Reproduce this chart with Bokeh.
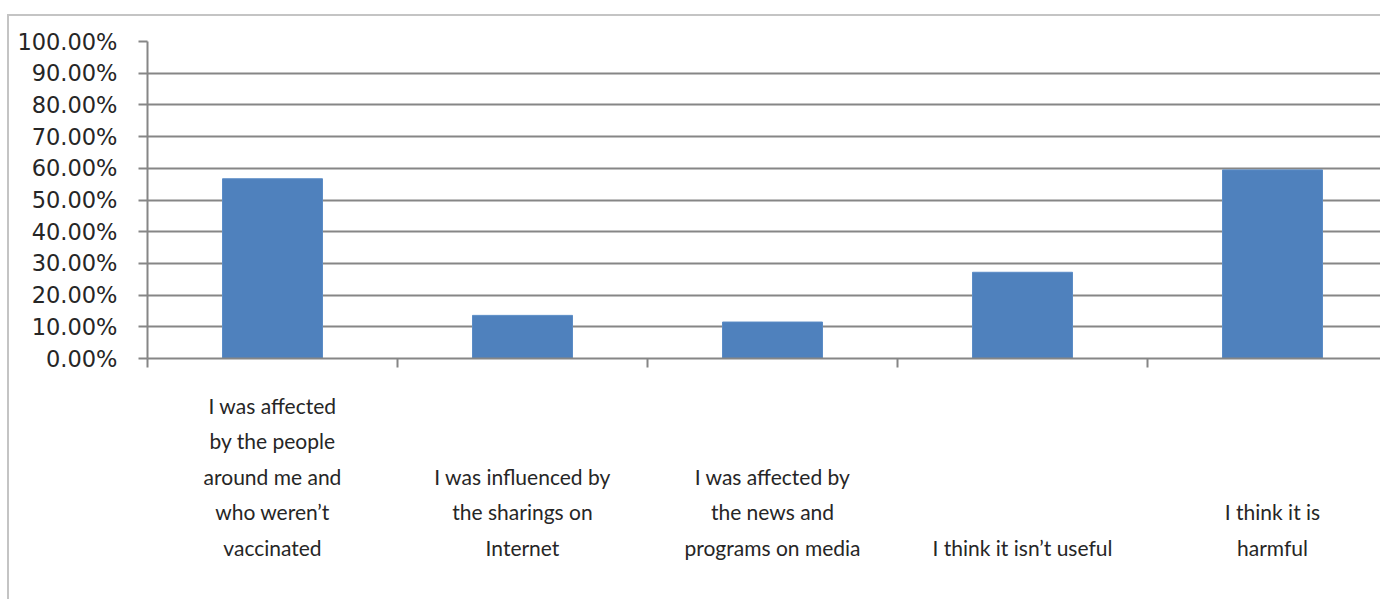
from bokeh.plotting import figure
from bokeh.models import Range1d, FixedTicker, NumeralTickFormatter
from bokeh.embed import file_html
from bokeh.resources import INLINE

categories = [
    "I was affected\nby the people\naround me and\nwho weren\u2019t\nvaccinated",
    "I was influenced by\nthe sharings on\nInternet",
    "I was affected by\nthe news and\nprograms on media",
    "I think it isn\u2019t useful",
    "I think it is\nharmful",
]
values = [0.567, 0.136, 0.115, 0.272, 0.595]
y_ticks = [0.0, 0.1, 0.2, 0.3, 0.4, 0.5, 0.6, 0.7, 0.8, 0.9, 1.0]

n = len(categories)
centers = [i + 0.5 for i in range(n)]
boundaries = list(range(n + 1))
max_lines = max(c.count("\n") + 1 for c in categories)
overrides = {}
for c, lab in zip(centers, categories):
    pad = max_lines - (lab.count("\n") + 1)
    overrides[c] = "\n" * pad + lab

p = figure(width=1373, height=585,
           x_range=Range1d(0, 4.94), y_range=Range1d(0, 1),
           output_backend="svg", toolbar_location=None,
           min_border_left=138, min_border_right=0,
           min_border_top=25, min_border_bottom=243)
p.margin = (14, 0, 0, 7)
p.styles = {"border-top": "2px solid #c4c4c4", "border-left": "2px solid #c4c4c4"}

p.vbar(x=centers, top=values, width=0.4, fill_color="#4f81bd", line_color="#5b8cc6", line_width=1)

p.outline_line_color = None
p.xgrid.visible = False
p.ygrid.ticker = FixedTicker(ticks=y_ticks)
p.ygrid.grid_line_color = "#868686"
p.ygrid.grid_line_width = 2

ya = p.yaxis[0]
ya.ticker = FixedTicker(ticks=y_ticks)
ya.formatter = NumeralTickFormatter(format="0.00%")
ya.major_tick_out = 9
ya.major_tick_in = 0
ya.minor_tick_out = 0
ya.minor_tick_in = 0
ya.major_tick_line_color = "#868686"
ya.major_tick_line_width = 2
ya.axis_line_color = "#868686"
ya.axis_line_width = 2
ya.major_label_text_font = "DejaVu Sans"
ya.major_label_text_font_size = "22.5px"
ya.major_label_text_color = "#262626"
ya.major_label_standoff = 21

xa = p.xaxis[0]
xa.ticker = FixedTicker(ticks=centers, minor_ticks=boundaries)
xa.major_label_overrides = overrides
xa.major_tick_out = 0
xa.major_tick_in = 0
xa.minor_tick_out = 9
xa.minor_tick_in = 0
xa.minor_tick_line_color = "#868686"
xa.minor_tick_line_width = 2
xa.axis_line_color = "#868686"
xa.axis_line_width = 2
xa.major_label_text_font = "Lato"
xa.major_label_text_font_size = "21px"
xa.major_label_text_color = "#262626"
xa.major_label_text_line_height = 1.42
xa.major_label_standoff = 25

open("out.html", "w").write(file_html(p, INLINE))
